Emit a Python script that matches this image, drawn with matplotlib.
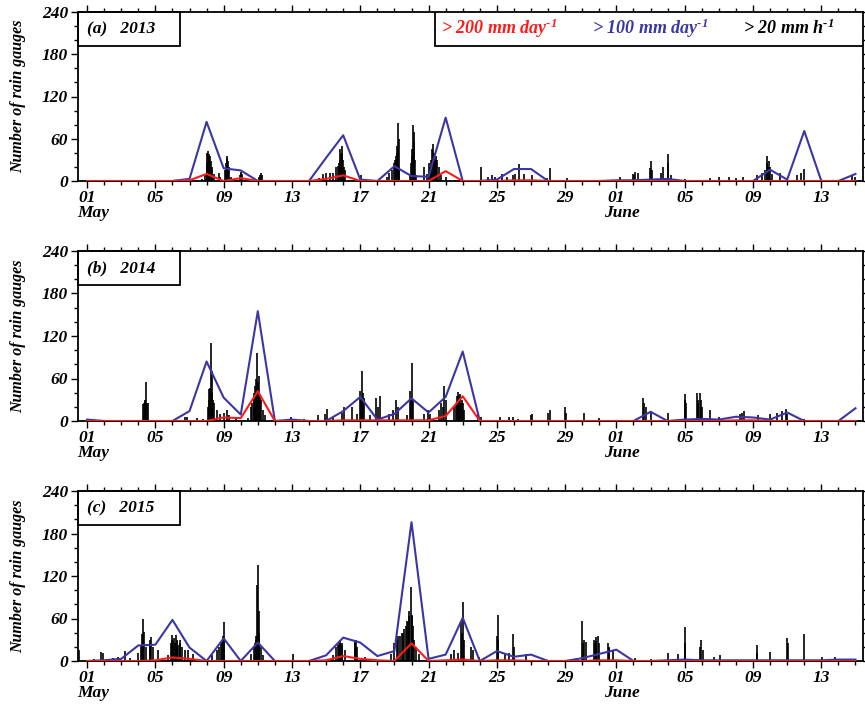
import numpy as np
import matplotlib
matplotlib.use("Agg")
import matplotlib.pyplot as plt
from matplotlib.patches import Rectangle
from matplotlib.ticker import MultipleLocator, FixedLocator
import matplotlib.transforms as mtrans

# ---------------- data ----------------
# daily counts, May 1 (index 0) .. June 15 (index 45)
blue_2013 = [0, 0, 0, 0, 0, 0, 3, 84, 18, 15, 0, 0, 0, 0, 33, 65, 2, 0, 21, 7, 6, 90, 0, 0, 2, 17,
             17, 0, 0, 0, 0, 1, 1, 2, 3, 0, 0, 0, 0, 0, 16, 2, 71, 0, 0, 10]
red_2013 = [0, 0, 0, 0, 0, 0, 1, 10, 0, 4, 0, 0, 0, 0, 3, 8, 0, 0, 0, 0, 0, 14, 0, 0, 0, 1,
            1, 0, 0, 0, 0, 0, 0, 0, 0, 0, 0, 0, 0, 0, 0, 0, 0, 0, 0, 0]
blue_2014 = [2, 0, 0, 0, 0, 0, 14, 84, 33, 9, 155, 0, 2, 0, 0, 14, 34, 2, 10, 32, 12, 34, 98, 0, 0, 0,
             0, 0, 0, 0, 0, 0, 0, 13, 0, 2, 3, 2, 6, 5, 2, 12, 0, 0, 0, 18]
red_2014 = [0, 0, 0, 0, 0, 0, 0, 0, 5, 4, 42, 0, 0, 0, 0, 1, 1, 1, 1, 1, 1, 7, 35, 0, 0, 0,
            0, 0, 0, 0, 0, 0, 0, 0, 0, 0, 0, 0, 1, 1, 0, 0, 0, 0, 0, 0]
blue_2015 = [0, 1, 3, 22, 23, 58, 19, 0, 32, 0, 26, 0, 0, 0, 8, 33, 26, 7, 14, 196, 3, 9, 61, 0, 14, 6,
             9, 0, 0, 4, 10, 16, 0, 0, 1, 2, 1, 1, 1, 1, 1, 1, 1, 1, 2, 2]
red_2015 = [0, 0, 0, 0, 1, 5, 3, 0, 0, 0, 0, 0, 0, 0, 1, 7, 3, 1, 0, 25, 0, 1, 2, 0, 1, 1,
            0, 0, 0, 0, 1, 1, 0, 0, 0, 0, 0, 0, 0, 0, 0, 0, 0, 0, 0, 0]

# hourly counts (> 20 mm/h): hour since May 1 00:00, number of gauges
hr_2013 = [60, 82, 101, 120, 139, 161, 166, 168, 169, 170, 171, 172, 173, 174, 175, 176, 178, 186, 187,
           194, 195, 196, 197, 198, 199, 202, 215, 216, 217, 218, 242, 243, 244, 246, 276, 326, 331,
           336, 341, 346, 350, 352, 354, 355, 356, 357, 358, 359, 360, 361, 362, 385, 421, 425, 428,
           432, 433, 434, 435, 436, 437, 438, 439, 454, 455, 456, 457, 458, 459, 460, 461, 463, 474,
           478, 480, 482, 484, 485, 486, 487, 488, 489, 490, 491, 492, 494, 498, 504, 554, 564, 569,
           574, 583, 590, 598, 602, 607, 614, 626, 646, 650, 674, 749, 768, 769, 770, 775, 791, 792,
           794, 806, 809, 816, 817, 821, 840, 876, 888, 902, 912, 922, 941, 948, 953, 955, 956, 957,
           958, 960, 962, 974, 998, 1003, 1007, 1075, 1080]
n_2013 = [1, 1, 1, 1, 2, 3, 8, 25, 40, 42, 30, 38, 35, 28, 20, 15, 10, 12, 6,
          15, 25, 36, 32, 28, 20, 5, 8, 13, 11, 10, 6, 9, 11, 8, 2, 4, 10,
          12, 11, 12, 20, 22, 25, 30, 45, 38, 50, 40, 30, 20, 15, 8, 6, 12, 16,
          25, 30, 35, 40, 50, 82, 60, 20, 10, 25, 35, 45, 79, 55, 70, 30, 8, 20,
          10, 25, 20, 30, 45, 52, 40, 38, 30, 35, 28, 30, 20, 8, 5, 20, 5, 8,
          6, 10, 6, 8, 10, 24, 10, 8, 4, 18, 4, 5, 10, 8, 13, 12, 18, 28,
          15, 12, 20, 39, 25, 8, 3, 4, 5, 5, 4, 5, 8, 12, 15, 25, 36, 20,
          28, 20, 10, 12, 8, 12, 17, 8, 5]

hr_2014 = [2, 79, 80, 81, 82, 83, 84, 85, 137, 140, 154, 163, 170, 171, 172, 173, 174, 175, 176, 177,
           179, 182, 187, 192, 197, 199, 209, 226, 230, 232, 234, 235, 236, 237, 238, 239, 240, 241,
           242, 243, 245, 247, 250, 287, 305, 324, 334, 337, 346, 358, 361, 372, 379, 384, 385, 386,
           388, 389, 398, 406, 409, 412, 425, 430, 434, 437, 449, 454, 455, 456, 458, 474, 479, 482,
           494, 498, 500, 502, 504, 516, 518, 520, 521, 522, 523, 524, 526, 527, 529, 530, 550, 554,
           581, 593, 599, 605, 624, 626, 648, 650, 672, 673, 698, 720, 782, 783, 785, 792, 816, 840,
           841, 842, 857, 858, 859, 862, 863, 864, 876, 888, 917, 920, 924, 943, 960, 970, 977, 982,
           984, 1008, 1085]
n_2014 = [1, 24, 26, 28, 30, 55, 26, 25, 5, 6, 4, 3, 20, 30, 45, 47, 110, 70, 40, 30,
          25, 15, 10, 12, 16, 8, 4, 4, 20, 25, 30, 40, 50, 45, 60, 96, 55, 64,
          40, 35, 30, 15, 8, 5, 3, 8, 10, 17, 6, 12, 20, 20, 10, 43, 30, 70,
          40, 33, 8, 33, 20, 36, 10, 15, 29, 20, 8, 43, 30, 82, 30, 10, 15, 10,
          15, 25, 20, 50, 30, 20, 25, 35, 30, 41, 35, 38, 25, 30, 25, 15, 10, 6,
          5, 6, 5, 3, 8, 10, 12, 15, 20, 12, 11, 4, 32, 25, 20, 14, 11, 38,
          30, 25, 39, 30, 25, 39, 30, 20, 15, 6, 10, 12, 14, 8, 10, 12, 14, 17,
          10, 3, 2]

hr_2015 = [-11, 2, 10, 19, 22, 36, 43, 53, 60, 72, 76, 77, 78, 79, 80, 83, 88, 89, 90, 92, 100, 114,
           118, 119, 120, 121, 122, 123, 125, 126, 127, 128, 130, 131, 133, 137, 142, 149, 175, 182,
           186, 188, 190, 191, 192, 193, 230, 234, 236, 237, 238, 239, 240, 241, 242, 244, 247, 290,
           346, 350, 352, 354, 355, 356, 358, 359, 362, 376, 377, 378, 380, 391, 427, 432, 435, 437,
           440, 442, 444, 446, 448, 450, 451, 452, 453, 455, 456, 457, 458, 460, 462, 466, 511, 516,
           521, 526, 527, 528, 530, 540, 542, 551, 576, 577, 578, 588, 593, 599, 600, 617, 696, 697,
           698, 701, 713, 714, 715, 716, 718, 720, 732, 733, 734, 739, 770, 792, 816, 830, 840, 841,
           862, 863, 865, 881, 890, 941, 942, 960, 984, 985, 1008, 1033, 1051, 1080]
n_2015 = [16, 2, 3, 13, 12, 4, 5, 14, 4, 12, 22, 38, 59, 30, 41, 20, 30, 25, 34, 20, 15, 8,
          25, 30, 37, 28, 32, 25, 37, 30, 28, 22, 30, 25, 20, 15, 15, 10, 8, 15,
          20, 25, 30, 35, 55, 30, 10, 20, 25, 30, 35, 107, 135, 70, 40, 20, 8, 10,
          8, 20, 22, 27, 25, 29, 22, 25, 15, 25, 28, 30, 20, 5, 10, 25, 30, 35,
          35, 39, 40, 45, 50, 56, 55, 63, 70, 105, 63, 65, 50, 30, 20, 10, 10, 15,
          12, 55, 40, 84, 30, 20, 15, 5, 35, 65, 30, 10, 12, 38, 20, 10, 56, 25,
          30, 27, 30, 25, 34, 28, 35, 25, 25, 18, 20, 15, 4, 3, 12, 10, 48, 25,
          20, 30, 15, 6, 8, 22, 12, 13, 32, 25, 38, 5, 6, 2]

panel_labels = ["(a)   2013", "(b)   2014", "(c)   2015"]
major_days = [0, 4, 8, 12, 16, 20, 24, 28, 31, 35, 39, 43]
major_labels = ["01", "05", "09", "13", "17", "21", "25", "29", "01", "05", "09", "13"]
month_days = [0, 31]
month_labels = ["May", "June"]
legend_texts = [r"> 200 mm day$^{\text{-1}}$", r"> 100 mm day$^{\text{-1}}$", r"> 20 mm h$^{\text{-1}}$"]

# ---------------- style ----------------
RED = "#ff1a1a"
BLUE = "#3b36a3"
FONT = "Liberation Serif"
plt.rcParams["font.family"] = [FONT, "DejaVu Serif"]
plt.rcParams["mathtext.fontset"] = "custom"
plt.rcParams["mathtext.rm"] = "Liberation Serif:bold:italic"
plt.rcParams["mathtext.it"] = "Liberation Serif:bold:italic"
plt.rcParams["mathtext.bf"] = "Liberation Serif:bold:italic"

W, H = 865, 705
fig = plt.figure(figsize=(W / 100, H / 100), dpi=100)

# axes rectangles in pixels: (top, bottom)
rows = [(12, 181), (251, 421), (491, 661)]
left_px, right_px = 78, 863

days = np.arange(46)
data = [(blue_2013, red_2013, hr_2013, n_2013),
        (blue_2014, red_2014, hr_2014, n_2014),
        (blue_2015, red_2015, hr_2015, n_2015)]

TICK_FS = 12.5
tickfont = dict(family=FONT, style="italic", weight="bold", size=TICK_FS)

for i, ((top, bot), (blue, red, hrs, cnt)) in enumerate(zip(rows, data)):
    ax = fig.add_axes([left_px / W, 1 - bot / H, (right_px - left_px) / W, (bot - top) / H])
    x_h = np.array(hrs) / 24.0
    ax.vlines(x_h, 0, cnt, color="black", linewidth=1.2, zorder=2)
    ax.plot(days, blue, color=BLUE, linewidth=1.5, zorder=3)
    ax.plot(days, red, color=RED, linewidth=1.5, zorder=4)

    ax.set_xlim(-0.53, 45.44)
    ax.set_ylim(0, 240)
    ax.xaxis.set_major_locator(FixedLocator(major_days))
    ax.xaxis.set_minor_locator(MultipleLocator(1))
    ax.yaxis.set_major_locator(MultipleLocator(60))
    ax.yaxis.set_minor_locator(MultipleLocator(20))
    ax.set_xticklabels(major_labels)
    ax.tick_params(which="both", direction="out", top=True, right=True, width=1.0, color="black")
    ax.tick_params(which="major", length=5)
    ax.tick_params(which="minor", length=3)
    ax.tick_params(axis="x", pad=1.5)
    ax.tick_params(axis="y", pad=2)
    for lab in ax.get_xticklabels() + ax.get_yticklabels():
        lab.set_fontfamily(FONT)
        lab.set_fontstyle("italic")
        lab.set_fontweight("bold")
        lab.set_fontsize(TICK_FS)
    ylabs = ax.get_yticklabels()
    ylabs[0].set_transform(ylabs[0].get_transform() + mtrans.ScaledTranslation(0, 4 / 100, fig.dpi_scale_trans))
    ylabs[-1].set_transform(ylabs[-1].get_transform() + mtrans.ScaledTranslation(0, -7 / 100, fig.dpi_scale_trans))
    for sp in ax.spines.values():
        sp.set_linewidth(1.3)

    ax.set_ylabel("Number of rain gauges", fontfamily=FONT, fontstyle="italic",
                  fontweight="bold", fontsize=11.5)
    ax.yaxis.set_label_coords(-0.066, 0.5)

    for md, ml in zip(month_days, month_labels):
        ax.text(md + 0.35, -0.19, ml, transform=ax.get_xaxis_transform(), ha="center", va="center",
                **tickfont)

    # panel label box
    ax.add_patch(Rectangle((0, 0.8), 0.13, 0.2, transform=ax.transAxes, fill=False,
                           edgecolor="black", linewidth=1.3, clip_on=False, zorder=5))
    ax.text(0.012, 0.9, panel_labels[i], transform=ax.transAxes, ha="left", va="center",
            family=FONT, style="italic", weight="bold", size=12.5)

    if i == 0:
        ax.add_patch(Rectangle((0.455, 0.8), 0.545, 0.2, transform=ax.transAxes, fill="white",
                               facecolor="white", edgecolor="black", linewidth=1.3, zorder=5))
        for xx, t, c in zip([0.537, 0.729, 0.905], legend_texts, [RED, BLUE, "black"]):
            ax.text(xx, 0.905, t, transform=ax.transAxes, ha="center", va="center", color=c,
                    family=FONT, style="italic", weight="bold", size=13, zorder=6)

fig.savefig("out.png", dpi=100)
